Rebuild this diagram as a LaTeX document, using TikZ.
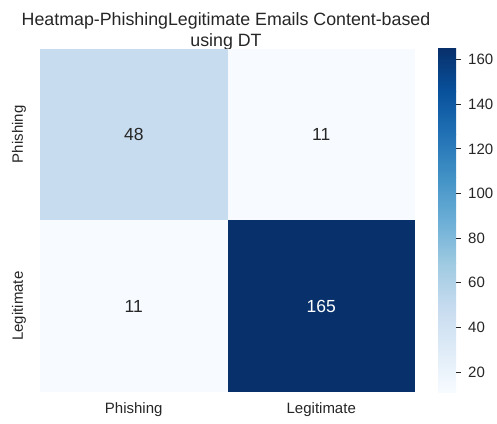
\documentclass[tikz,border=0pt]{standalone}
\usepackage{fontspec}
\setmainfont{Liberation Sans}
\definecolor{txt}{HTML}{262626}
\definecolor{b0}{HTML}{F7FBFF}
\definecolor{b1}{HTML}{DEEBF7}
\definecolor{b2}{HTML}{C6DBEF}
\definecolor{b3}{HTML}{9ECAE1}
\definecolor{b4}{HTML}{6BAED6}
\definecolor{b5}{HTML}{4292C6}
\definecolor{b6}{HTML}{2171B5}
\definecolor{b7}{HTML}{08519C}
\definecolor{b8}{HTML}{08306B}
\begin{document}
\begin{tikzpicture}[x=1pt,y=-1pt,
	ticklabel/.style={text=txt,font=\fontsize{15}{17}\selectfont,inner sep=0pt},
	cellnum/.style={text=txt,font=\fontsize{17.5}{20}\selectfont,inner sep=0pt}]
	\useasboundingbox[fill=white] (0,0) rectangle (497,423);
	% title
	\node[text=txt,font=\fontsize{17.8}{21.5}\selectfont,align=center,inner sep=0pt] (title) at (226,31.5) {Heatmap-PhishingLegitimate Emails Content-based\\using DT};
	% cells
	\fill[b2!92!b1] (40,48.5) rectangle (227.5,220.25);
	\fill[b0] (227.5,48.5) rectangle (415,220.25);
	\fill[b0] (40,220.25) rectangle (227.5,392);
	\fill[b8] (227.5,220.25) rectangle (415,392);
	\node[cellnum] (pp) at (133.75,134.4) {48};
	\node[cellnum] (pl) at (321.25,134.4) {11};
	\node[cellnum] (lp) at (133.75,306.1) {11};
	\node[cellnum,text=white] (ll) at (321.25,306.1) {165};
	% axis labels
	\node[ticklabel,rotate=90] (yphish) at (19,134.4) {Phishing};
	\node[ticklabel,rotate=90] (ylegit) at (19,306.1) {Legitimate};
	\node[ticklabel] (xphish) at (133.75,410) {Phishing};
	\node[ticklabel] (xlegit) at (321.25,410) {Legitimate};
	% colour bar
	\foreach \i [evaluate=\i as \j using int(\i+1)] in {0,...,7}
		\fill[shading=axis,bottom color=b\i,top color=b\j] (438,{392-42.9375*\i}) rectangle (456,{392-42.9375*(\i+1)});
	\foreach \v in {20,40,...,160}{
		\coordinate (t\v) at (456,{392-(\v-11)/154*343.5});
		\draw[txt,line width=0.8pt] (t\v) -- ++(5,0);
		\node[ticklabel,anchor=west] (c\v) at ([xshift=12pt]t\v) {\v};
	}
\end{tikzpicture}
\end{document}
